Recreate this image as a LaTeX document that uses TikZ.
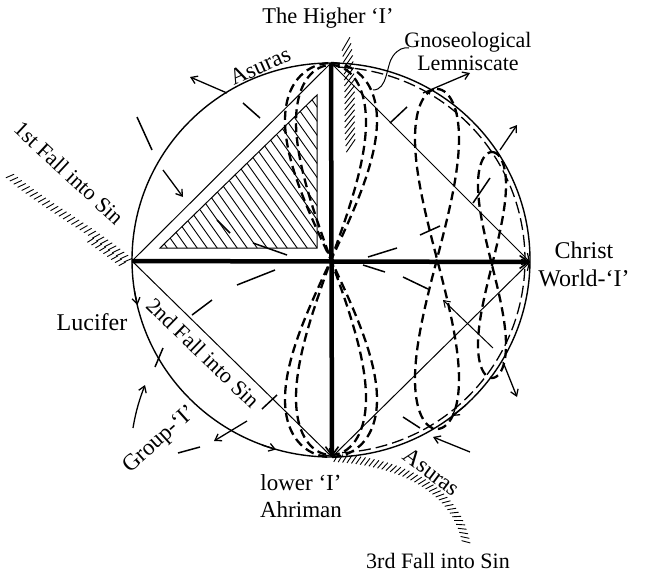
\documentclass[tikz,border=0pt]{standalone}
\usepackage{fontspec}
\setmainfont{Liberation Serif}
\usetikzlibrary{arrows.meta,decorations.markings}
\begin{document}
\begin{tikzpicture}[x=1pt,y=-1pt,
  lbl/.style={font=\fontsize{23}{25}\selectfont, inner sep=0pt, align=center},
  sqline/.style={line width=1pt},
  circ/.style={line width=1.4pt},
  thickline/.style={line width=4.5pt},
  bigtip/.style={-{Straight Barb[length=9pt,width=13pt,line width=1.6pt]}},
  smalltip/.style={-{Straight Barb[length=7pt,width=9pt,line width=1.2pt]}},
  arr/.style={line width=1.3pt,-{Straight Barb[length=6pt,width=8pt]}},
  stroke/.style={line width=1.5pt},
  lem/.style={dash pattern=on 9pt off 5pt, line width=2.3pt},
  hug/.style={dash pattern=on 12pt off 5pt, line width=1.3pt},
  hatchl/.style={line width=0.9pt},
  hatchs/.style={line width=0.9pt}]
\useasboundingbox (0,0) rectangle (646,573);

\coordinate (C) at (331,261);
\coordinate (T) at (331,63);
\coordinate (B) at (332,457);
\coordinate (L) at (132,261);
\coordinate (R) at (530,262);

% circle
\draw[circ] (331,260) ellipse [x radius=199pt, y radius=197pt];

% hatched triangle
\begin{scope}
\clip (160,248) -- (317,248) -- (317,95) -- cycle;
\foreach \i in {0,...,28} \draw[hatchl] ({160+10*\i},252) -- ({160+10*\i-115},90);
\end{scope}
\draw[sqline] (160,248) -- (317,248) -- (317,95) -- cycle;

% inscribed square
\draw[sqline] (L) -- (T);
\draw[sqline,smalltip] (T) -- (R);
\draw[sqline,smalltip] (B) -- (R);
\draw[sqline,smalltip] (L) -- (B);

% thick cross
\draw[thickline,bigtip] (L) -- (R);
\draw[thickline,bigtip] (T) -- (B);

% lemniscates
\draw[lem] plot[domain=0:360, samples=140, smooth] ({331+46*sin(2*\x)}, {260-197*cos(\x)});
\draw[lem] plot[domain=0:360, samples=140, smooth] ({331+35*sin(2*\x)}, {260-195*cos(\x)});
\draw[lem] plot[domain=0:360, samples=120, smooth] ({437+22*sin(2*\x)}, {259-170*cos(\x)});
\draw[lem] plot[domain=0:360, samples=100, smooth] ({492+14*sin(2*\x)}, {265-113*cos(\x)});
\draw[hug] plot[domain=-88:88, samples=60, smooth] ({331+194*cos(\x)}, {260+193*sin(\x)});

% hatched bands
\path[decorate, decoration={markings, mark=between positions 0 and 1 step 6pt with {\draw[hatchs] (6pt,-5pt) -- (-6pt,5pt);}}]
  (346,44) .. controls (352,80) and (348,120) .. (351,148);
\path[decorate, decoration={markings, mark=between positions 0 and 1 step 5pt with {\draw[hatchs] (-2pt,-4pt) -- (2pt,4pt);}}]
  (10,176) .. controls (48,208) and (90,228) .. (130,262);
\path[decorate, decoration={markings, mark=between positions 0.7 and 1 step 5pt with {\draw[hatchs] (-2pt,-10pt) -- (1pt,-3pt);}}]
  (10,176) .. controls (48,208) and (90,228) .. (130,262);
\path[decorate, decoration={markings, mark=between positions 0 and 1 step 4.5pt with {\draw[hatchs] (-2pt,-4pt) -- (2pt,4pt);}}]
  (336,458) .. controls (400,462) and (455,488) .. (466,542);

% small arrows and strokes
\draw[arr] (227,93) -- (190,77);
\draw[stroke] (137,117) -- (152,150);
\draw[stroke] (243,103) -- (260,118);
\draw[arr] (163,170) -- (183,197);
\draw[stroke] (217,220) -- (230,233);
\draw[stroke] (253,243) -- (287,255);
\draw[stroke] (237,285) -- (275,270);
\draw[stroke] (368,257) -- (397,248);
\draw[stroke] (363,265) -- (385,272);
\draw[stroke] (192,315) -- (212,300);
\draw[stroke] (262,409) -- (277,395);
\draw[stroke] (155,367) -- (163,348);
\draw[arr] (134.5,291) -- (137.5,305);
\draw[arr] (247,421) -- (214,441);
\draw[arr] (262,445) -- (276,449.5);
\draw[stroke] (178,453) -- (200,447);
\draw[arr] (133,428) .. controls (136,410) and (140,398) .. (145,385);
\draw[arr] (470,452) -- (433,437);
\draw[arr] (466,405) -- (452,416);
\draw[stroke] (403,417) -- (420,428);
\draw[arr] (503,362) -- (517,397);
\draw[arr,line width=1pt] (493,348) -- (443,300);
\draw[stroke] (403,277) -- (428,289);
\draw[arr] (423,93) -- (470,73);
\draw[arr] (500,150) -- (517,125);
\draw[stroke] (390,123) -- (407,107);
\draw[stroke] (473,203) -- (490,178);
\draw[stroke] (420,235) -- (440,226);

% labels
\node[lbl, font=\fontsize{22.5}{25}\selectfont] (hi) at (328,18) {The Higher ‘I’};
\node[lbl, font=\fontsize{22}{23}\selectfont] (gn) at (468,51) {Gnoseological\\Lemniscate};
\coordinate (gp) at (373,90);
\draw[sqline] (gp) .. controls (388,90) and (386,65) .. (393,56) .. controls (398,49) and (404,47) .. (409,48);
\node[lbl, rotate=24] (as1) at (260,66) {Asuras};
\node[lbl, font=\fontsize{22}{24}\selectfont, rotate=-43] (f1) at (69,173) {1st Fall into Sin};
\node[lbl, font=\fontsize{24}{28}\selectfont] (ch) at (584,264) {Christ\\World-‘I’};
\node[lbl, font=\fontsize{24}{26}\selectfont] (lu) at (92,322) {Lucifer};
\node[lbl, font=\fontsize{22}{24}\selectfont, rotate=-44] (f2) at (203,353) {2nd Fall into Sin};
\node[lbl, rotate=42] (gr) at (160,440) {Group-‘I’};
\node[lbl, font=\fontsize{23}{27}\selectfont] (lo) at (301,496) {lower ‘I’\\Ahriman};
\node[lbl, rotate=-37] (as2) at (432,472) {Asuras};
\node[lbl, font=\fontsize{22}{24}\selectfont] (f3) at (438,561) {3rd Fall into Sin};
\end{tikzpicture}
\end{document}
